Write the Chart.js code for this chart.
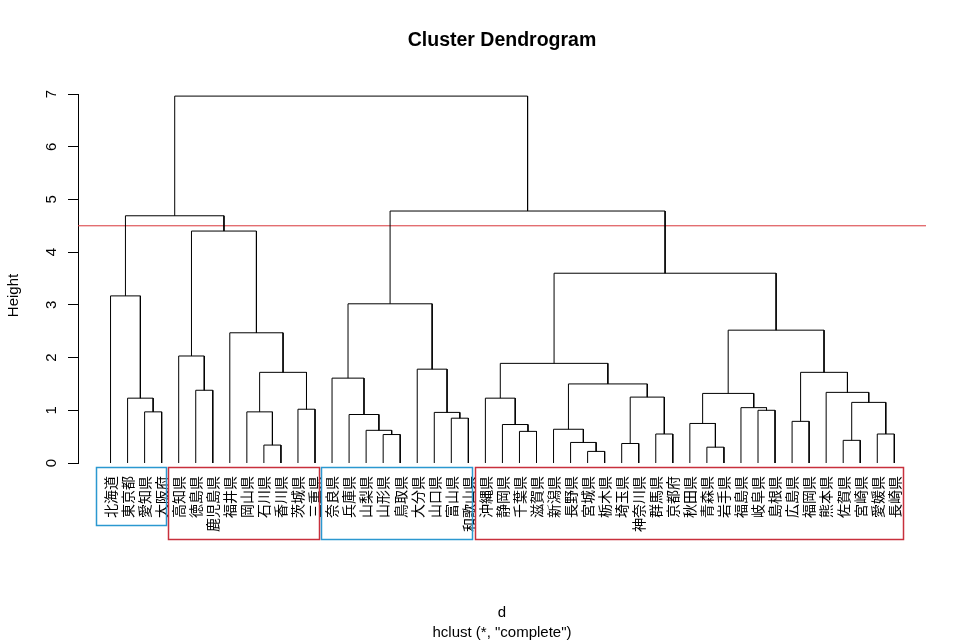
<!DOCTYPE html>
<html>
<head>
<meta charset="utf-8">
<script src="https://cdn.jsdelivr.net/npm/chart.js@4.4.0/dist/chart.umd.min.js"></script>
<style>
html, body { margin: 0; padding: 0; background: #ffffff; }
#wrap { width: 966px; height: 644px; }
</style>
</head>
<body>
<div id="wrap"><canvas id="c" width="966" height="644"></canvas></div>
<script>
// ---------------- DATA ----------------
// leaves in dendrogram display order
const leafLabels = [
  '北海道','東京都','愛知県','大阪府',
  '高知県','徳島県','鹿児島県','福井県','岡山県','石川県','香川県','茨城県','三重県',
  '奈良県','兵庫県','山梨県','山形県','鳥取県','大分県','山口県','富山県','和歌山県',
  '沖縄県','静岡県','千葉県','滋賀県','新潟県','長野県','宮城県','栃木県','埼玉県','神奈川県',
  '群馬県','京都府','秋田県','青森県','岩手県','福島県','岐阜県','島根県','広島県','福岡県',
  '熊本県','佐賀県','宮崎県','愛媛県','長崎県'
];
// merge steps (negative = leaf position in display order, positive = earlier merge step)
const mergeLeft   = [-29,-36,-10,-31,-28,-44,-17,-33,-46,-25,-16,-27,-24,-35,-41,-21,-15,-20, -3, -9,-39,-12,-38,  6, -2,-23,  4, 14,-43, -6, 12,-14, 20, 15,-19, 26, -5, -8, 28, 32, -1, 36, 37, 41, 40, 44];
const mergeRight  = [-30,-37,-11,-32,  1,-45,-18,-34,-47,-26,  7,  5, 10,  2,-42,-22, 11, 16, -4,  3,-40,-13, 21,  9, 19, 13,  8, 23, 24, -7, 27, 17, 22, 29, 18, 31, 30, 33, 34, 35, 25, 39, 38, 43, 42, 45];
const mergeHeight = [0.22,0.30,0.34,0.37,0.39,0.43,0.54,0.55,0.55,0.60,0.62,0.64,0.73,0.75,0.79,0.85,0.92,0.96,0.97,0.97,1.00,1.02,1.05,1.15,1.23,1.23,1.25,1.32,1.34,1.38,1.50,1.61,1.72,1.72,1.78,1.89,2.03,2.47,2.52,3.02,3.17,3.60,4.40,4.69,4.78,6.96];
// cluster groups (k = 4), sizes in display order
const groupSizes = [4, 9, 9, 25];
const cutHeight = 4.5;
const yTickValues = [0, 1, 2, 3, 4, 5, 6, 7];

// ---------------- STYLE ----------------
const groupColors = ['#2B98D0', '#C8303C', '#2B98D0', '#C8303C'];
const cutColor = '#D8363A';
const latinFont = '"Liberation Sans", Arial, sans-serif';
const cjkFont = '"Noto Sans CJK JP", "Noto Sans CJK SC", sans-serif';
const xRangeMin = -0.91, xRangeMax = 48.86;

// ---------------- BUILD TREE SEGMENTS ----------------
const nodeX = [], nodeH = [];
function childPos(ref) {
  if (ref < 0) return { x: -ref, h: 0 };
  return { x: nodeX[ref - 1], h: nodeH[ref - 1] };
}
const datasets = [];
for (let i = 0; i < mergeHeight.length; i++) {
  const a = childPos(mergeLeft[i]);
  const b = childPos(mergeRight[i]);
  const h = mergeHeight[i];
  nodeX.push((a.x + b.x) / 2);
  nodeH.push(h);
  datasets.push({
    data: [{ x: a.x, y: a.h }, { x: a.x, y: h }, { x: b.x, y: h }, { x: b.x, y: b.h }],
    borderColor: '#000000', borderWidth: 1, pointRadius: 0, fill: false, tension: 0
  });
}
datasets.push({
  data: [{ x: xRangeMin, y: cutHeight }, { x: xRangeMax, y: cutHeight }],
  borderColor: cutColor, borderWidth: 1, pointRadius: 0, fill: false, tension: 0
});

// ---------------- PLUGINS ----------------
const extras = {
  id: 'extras',
  afterDraw(chart) {
    const ctx = chart.ctx;
    const xs = chart.scales.x, ys = chart.scales.y;
    // y axis title
    ctx.save();
    ctx.fillStyle = '#000';
    ctx.font = '15px ' + latinFont;
    ctx.textAlign = 'center';
    ctx.textBaseline = 'middle';
    ctx.translate(14, (ys.top + ys.bottom) / 2 + 17);
    ctx.rotate(-Math.PI / 2);
    ctx.fillText('Height', 0, 0);
    ctx.restore();
    // cluster rectangles around labels
    ctx.save();
    ctx.font = '14px ' + cjkFont;
    const labelTop = xs.top + xs.options.ticks.padding;
    const boxTop = ys.getPixelForValue(0) + 3.5;
    let start = 1;
    groupSizes.forEach((n, gi) => {
      const end = start + n - 1;
      let maxW = 0;
      for (let k = start; k <= end; k++) maxW = Math.max(maxW, ctx.measureText(leafLabels[k - 1]).width);
      const left = xs.getPixelForValue(start - (gi === 0 ? 0.88 : 0.62));
      const right = xs.getPixelForValue(end + (gi === groupSizes.length - 1 ? 0.5 : 0.22));
      const bottom = labelTop + maxW + 7;
      ctx.strokeStyle = groupColors[gi];
      ctx.lineWidth = 1.5;
      ctx.strokeRect(Math.round(left) + 0.5, Math.round(boxTop) + 0.5, Math.round(right - left), Math.round(bottom - boxTop));
      start = end + 1;
    });
    ctx.restore();
  }
};

// ---------------- CHART ----------------
new Chart(document.getElementById('c'), {
  type: 'line',
  data: { datasets },
  plugins: [extras],
  options: {
    responsive: false,
    animation: false,
    parsing: true,
    layout: { padding: { left: 0, right: 40, top: 0, bottom: 0 } },
    plugins: {
      legend: { display: false },
      tooltip: { enabled: false },
      title: {
        display: true,
        text: 'Cluster Dendrogram',
        fullSize: false,
        color: '#000',
        font: { family: latinFont, size: 19.5, weight: 'bold', lineHeight: 1.2 },
        padding: { top: 29, bottom: 41.6 }
      }
    },
    scales: {
      x: {
        type: 'linear',
        min: xRangeMin,
        max: xRangeMax,
        afterBuildTicks: (scale) => { scale.ticks = leafLabels.map((_, i) => ({ value: i + 1 })); },
        afterFit: (scale) => { scale.height = 181; },
        grid: { display: false, drawTicks: false },
        border: { display: false },
        ticks: {
          autoSkip: false,
          minRotation: 90,
          maxRotation: 90,
          padding: 13,
          color: '#000',
          font: { family: cjkFont, size: 14 },
          callback: (v) => leafLabels[v - 1] || ''
        },
        title: {
          display: true,
          text: ['d', 'hclust (*, "complete")'],
          color: '#000',
          font: { family: latinFont, size: 15, lineHeight: '20px' },
          padding: { top: 0, bottom: 1 }
        }
      },
      y: {
        type: 'linear',
        min: 0,
        max: 7,
        afterBuildTicks: (scale) => { scale.ticks = yTickValues.map(v => ({ value: v })); },
        afterFit: (scale) => { scale.width = 78; },
        grid: { drawOnChartArea: false, drawTicks: true, tickLength: 10, color: '#000', lineWidth: 1 },
        border: { display: true, color: '#000', width: 1 },
        ticks: {
          minRotation: 90,
          maxRotation: 90,
          crossAlign: 'center',
          padding: 12,
          color: '#000',
          font: { family: latinFont, size: 15 }
        }
      }
    }
  }
});
</script>
</body>
</html>
